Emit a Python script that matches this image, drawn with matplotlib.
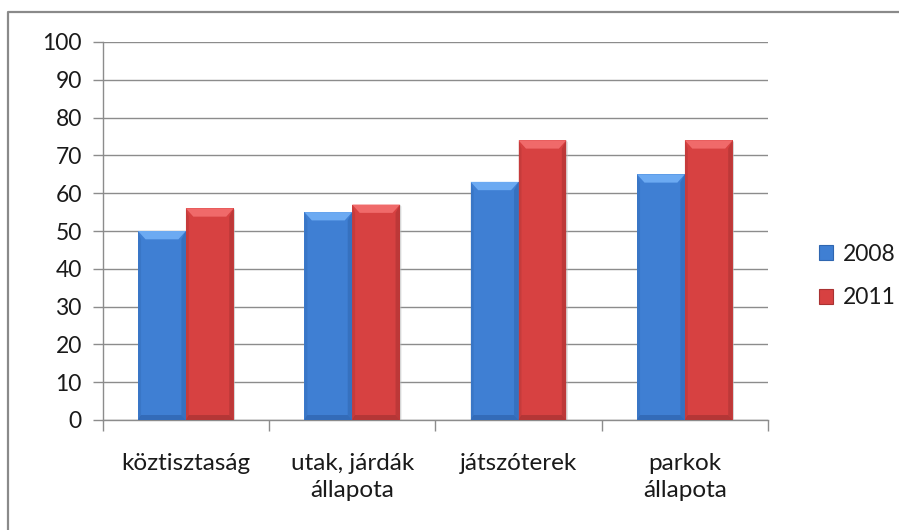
import matplotlib
matplotlib.use("Agg")
import matplotlib.pyplot as plt
from matplotlib.patches import Polygon, Patch
from matplotlib.lines import Line2D

categories = ["köztisztaság", "utak, járdák\nállapota", "játszóterek", "parkok\nállapota"]
series_names = ["2008", "2011"]
values_2008 = [50, 55, 63, 65]
values_2011 = [56, 57, 74, 74]
y_ticks = [0, 10, 20, 30, 40, 50, 60, 70, 80, 90, 100]

plt.rcParams['font.family'] = ['Lato', 'DejaVu Sans']
FS = 16.5
FSX = 17.5
TXT = "#1a1a1a"
GRID = "#8c8c8c"

styles = {
    "2008": dict(body="#3f7fd3", top="#6caaf2", side="#2f66b0", bottom="#2c5fa6"),
    "2011": dict(body="#d74141", top="#f06a6a", side="#a93232", bottom="#9e2f2f"),
}

fig = plt.figure(figsize=(8.99, 5.30), dpi=100)
ax = fig.add_axes([102.7/899, 1-420/530, (768-102.7)/899, (420-42)/530])

w = 0.2875
xs = list(range(len(categories)))
bars08 = ax.bar([x - w/2 for x in xs], values_2008, width=w, color=styles["2008"]["body"],
                edgecolor="none", zorder=3)
bars11 = ax.bar([x + w/2 for x in xs], values_2011, width=w, color=styles["2011"]["body"],
                edgecolor="none", zorder=3)

bx = 0.045   # bevel in x (data units)
by = 2.2     # bevel in y (data units)
for bars, name in ((bars08, "2008"), (bars11, "2011")):
    st = styles[name]
    for b in bars:
        x0 = b.get_x(); x1 = x0 + b.get_width(); h = b.get_height()
        # shadow
        ax.add_patch(Polygon([(x1, 0), (x1 + 0.008, 0), (x1 + 0.008, h - 0.5), (x1, h)],
                             closed=True, color="#bbbbbb", alpha=0.6, lw=0, zorder=2))
        # right side bevel
        ax.add_patch(Polygon([(x1, h), (x1 - bx*0.6, h - by), (x1 - bx*0.6, by*0.6), (x1, 0)],
                             closed=True, color=st["side"], lw=0, zorder=4, alpha=0.55))
        # left side bevel
        ax.add_patch(Polygon([(x0, h), (x0 + bx*0.4, h - by), (x0 + bx*0.4, by*0.4), (x0, 0)],
                             closed=True, color=st["side"], lw=0, zorder=4, alpha=0.35))
        # bottom bevel
        ax.add_patch(Polygon([(x0, 0), (x1, 0), (x1 - bx*0.6, by*0.6), (x0 + bx*0.4, by*0.6)],
                             closed=True, color=st["bottom"], lw=0, zorder=4, alpha=0.6))
        # top bevel
        ax.add_patch(Polygon([(x0, h), (x1, h), (x1 - bx, h - by), (x0 + bx, h - by)],
                             closed=True, color=st["top"], lw=0, zorder=5))

ax.set_xlim(-0.5, len(categories) - 0.5)
ax.set_ylim(0, 100)
ax.set_yticks(y_ticks)
ax.set_yticklabels([str(t) for t in y_ticks], fontsize=FS, color=TXT)
ax.yaxis.grid(True, color=GRID, lw=1.0, zorder=0)
ax.set_axisbelow(True)

ax.set_xticks([i - 0.5 for i in range(len(categories) + 1)])
ax.set_xticklabels([])
ax.set_xticks(xs, minor=True)
ax.set_xticklabels(categories, minor=True, fontsize=FSX, color=TXT, linespacing=1.35)
ax.tick_params(axis='x', which='minor', length=0, pad=24)
ax.tick_params(axis='x', which='major', length=8, width=1, color=GRID, direction='out')
ax.tick_params(axis='y', length=7, width=1, color=GRID, direction='out', pad=8)

for s in ("top", "right"):
    ax.spines[s].set_visible(False)
for s in ("left", "bottom"):
    ax.spines[s].set_color(GRID)
    ax.spines[s].set_linewidth(1.0)

handles = [Patch(facecolor=styles[n]["body"], edgecolor=styles[n]["side"], lw=0.8) for n in series_names]
fig.legend(handles, series_names, loc="center left", bbox_to_anchor=(808/899, 1-276/530),
           frameon=False, fontsize=FS, handlelength=0.6, handleheight=0.6,
           handletextpad=0.4, labelspacing=1.0, borderpad=0, labelcolor=TXT)

# chart-area border (top and left visible)
fig.add_artist(Line2D([8/899, 8/899, 1.0], [0.0, 1-12/530, 1-12/530],
                      transform=fig.transFigure, color="#8a8a8a", lw=1.6))

fig.savefig("out.png", dpi=100)
